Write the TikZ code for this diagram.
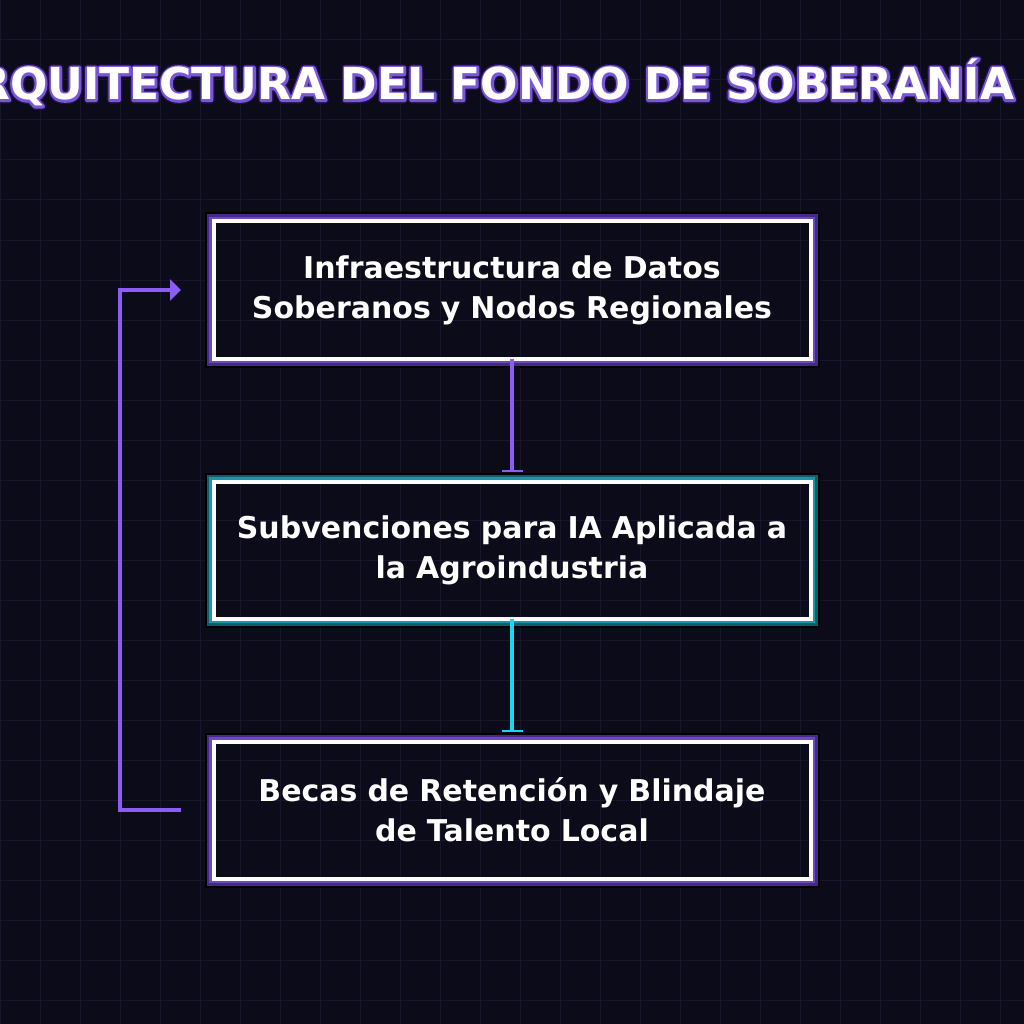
\documentclass[tikz,border=0pt]{standalone}
\usepackage{fontspec}
\setmainfont{DejaVu Sans}
\usetikzlibrary{arrows.meta}
\definecolor{bg}{HTML}{0B0B1A}
\definecolor{gridc}{HTML}{17162B}
\definecolor{vio}{HTML}{8B5CF6}
\definecolor{cya}{HTML}{22D3EE}
\definecolor{vioin}{HTML}{6C48C4}
\definecolor{vioout}{HTML}{45298A}
\definecolor{tealin}{HTML}{1898A6}
\definecolor{tealout}{HTML}{0D5E66}
\tikzset{
  gridline/.style={gridc, line width=1pt},
  box/.style={draw=white, line width=4pt, outer sep=0pt, minimum width=597pt, minimum height=137pt,
    text width=594pt, align=center, inner sep=0pt, text=white,
    font=\bfseries\fontsize{30}{40}\selectfont},
  flow/.style={line width=4pt},
  titletext/.style={anchor=base west, inner sep=0pt, text=white, font=\bfseries\fontsize{44}{50}\selectfont},
}
% outlined text: stroke-only copies behind a white fill
\newcommand\strokedtext[3]{% width, RGB stroke, text
  \rlap{\special{pdf:literal direct 1 Tr 1 j #1 w #2 RG}#3\special{pdf:literal direct 0 Tr}}}
\newcommand\glowbox[3]{%
  \draw[black, line width=2pt] ([shift={(-8,-8)}]#1.north west) rectangle ([shift={(8,8)}]#1.south east);
  \draw[#3, line width=2.6pt] ([shift={(-5.7,-5.7)}]#1.north west) rectangle ([shift={(5.7,5.7)}]#1.south east);
  \draw[#2, line width=2.6pt] ([shift={(-3.3,-3.3)}]#1.north west) rectangle ([shift={(3.3,3.3)}]#1.south east);
}
\begin{document}
\begin{tikzpicture}[x=1pt,y=-1pt]
\fill[bg] (0,0) rectangle (1024,1024);
\useasboundingbox (0,0) rectangle (1024,1024);
\foreach \i in {0,40,...,1000} {
  \draw[gridline] (\i,0) -- (\i,1024);
  \draw[gridline] (0,\i) -- (1024,\i);
}
% title
\begin{scope}
\clip (0,0) rectangle (1024,1024);
\node[titletext] (title) at (-58,100)
  {\strokedtext{7}{0.13 0.07 0.30}{ARQUITECTURA DEL FONDO DE SOBERANÍA}%
   \strokedtext{4.4}{0.48 0.34 0.85}{ARQUITECTURA DEL FONDO DE SOBERANÍA}%
   ARQUITECTURA DEL FONDO DE SOBERANÍA};
\end{scope}
% boxes
\node[box] (b1) at (512,290) {Infraestructura de Datos\\Soberanos y Nodos Regionales};
\node[box] (b2) at (512,550) {Subvenciones para IA Aplicada a\\la Agroindustria};
\node[box] (b3) at (512,810) {Becas de Retención y Blindaje\\de Talento Local};
\glowbox{b1}{vioin}{vioout}
\glowbox{b2}{tealin}{tealout}
\glowbox{b3}{vioin}{vioout}
% connectors
\draw[flow, vio, -{Bar[width=21pt,line width=2pt]}] (b1.south) -- ([yshift=9.5pt]b2.north);
\draw[flow, cya, -{Bar[width=21pt,line width=2pt]}] (b2.south) -- ([yshift=9.5pt]b3.north);
\draw[flow, vio, -{Triangle[length=11pt,width=21pt]}] ([xshift=-32.5pt]b3.west) -- ++(-61,0) |- ([xshift=-32.5pt]b1.west);
\end{tikzpicture}
\end{document}
